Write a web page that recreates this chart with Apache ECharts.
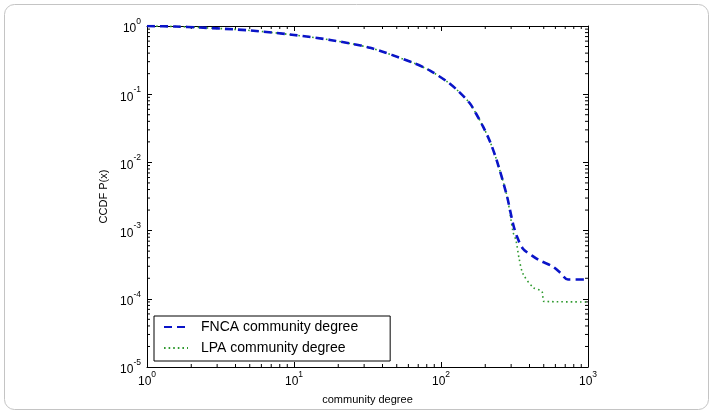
<!DOCTYPE html>
<html>
<head>
<meta charset="utf-8">
<script src="https://cdn.jsdelivr.net/npm/echarts@6/dist/echarts.min.js"></script>
<style>html,body{margin:0;padding:0;background:#fff}#c{width:709px;height:410px}</style>
</head>
<body>
<div id="c"></div>
<script>
// ---- data ----
var fncaX = [1, 1.55, 2.29, 5.02, 10, 17.6, 32.9, 64.5, 84.2, 110, 130.5, 157.5, 173, 193, 215, 240, 281, 309, 329, 361, 416, 471, 569, 645, 731, 1000];
var fncaY = [1.0, 0.983, 0.951, 0.86, 0.739, 0.625, 0.478, 0.289, 0.221, 0.153, 0.112, 0.0729, 0.0521, 0.0337, 0.0204, 0.0105, 0.00321, 0.00126, 0.000813, 0.000543, 0.00043, 0.000363, 0.000302, 0.000243, 0.000192, 0.000192];
var lpaX = [1, 1.55, 2.29, 5.02, 10, 17.6, 32.9, 64.5, 84.2, 110, 130.5, 157.5, 173, 193, 215, 240, 281, 309, 324, 340, 361, 423, 486, 502, 1000];
var lpaY = [1.0, 0.983, 0.951, 0.86, 0.739, 0.625, 0.478, 0.289, 0.221, 0.153, 0.112, 0.0729, 0.0521, 0.0337, 0.0204, 0.0105, 0.00321, 0.00096, 0.00071, 0.000388, 0.000234, 0.000147, 0.000128, 0.0000917, 0.0000899];
var seriesNames = ['FNCA community degree', 'LPA community degree'];
var xMin = 1, xMax = 1000, yMin = 1e-5, yMax = 1;
var xTitle = 'community degree', yTitle = 'CCDF P(x)';

function zip(a, b) { return a.map(function (v, i) { return [v, b[i]]; }); }
function minorVals(lo, hi) {
  var out = [];
  for (var e = Math.round(Math.log10(lo)); e < Math.round(Math.log10(hi)); e++) {
    for (var m = 2; m <= 9; m++) out.push(m * Math.pow(10, e));
  }
  return out;
}
var xMinor = minorVals(xMin, xMax), yMinor = minorVals(yMin, yMax);

var FONT = 'Liberation Sans, Arial, sans-serif';
function powLabel(v) {
  var e = Math.round(Math.log10(v));
  return '{b|10}{s|' + e + '}';
}
var richLab = {
  b: { fontSize: 12, fontFamily: FONT, color: '#000', lineHeight: 18, verticalAlign: 'bottom', padding: [6, 0, 0, 0] },
  s: { fontSize: 8.5, fontFamily: FONT, color: '#000', lineHeight: 18, verticalAlign: 'top', padding: [0, 0, 6, 0] }
};
var axisLineStyle = { show: true, lineStyle: { color: '#000', width: 1 } };

var chart = echarts.init(document.getElementById('c'), null, { renderer: 'canvas' });
var grid = { left: 147, right: 121, top: 26, bottom: 41, containLabel: false };

function minorTickSeries(vals, isX) {
  return {
    type: 'custom', coordinateSystem: 'cartesian2d', xAxisIndex: 0, yAxisIndex: 0,
    silent: true, clip: false, z: 1, legendHoverLink: false,
    data: vals.map(function (v) { return [v]; }),
    renderItem: function (params, api) {
      var v = api.value(0), L = 3, a, b;
      if (isX) { a = api.coord([v, yMin]); b = api.coord([v, yMax]); }
      else { a = api.coord([xMin, v]); b = api.coord([xMax, v]); }
      var st = { stroke: '#000', lineWidth: 1 };
      if (isX) {
        return { type: 'group', children: [
          { type: 'line', shape: { x1: a[0], y1: a[1], x2: a[0], y2: a[1] - L }, style: st },
          { type: 'line', shape: { x1: b[0], y1: b[1], x2: b[0], y2: b[1] + L }, style: st }
        ]};
      }
      return { type: 'group', children: [
        { type: 'line', shape: { x1: a[0], y1: a[1], x2: a[0] + L, y2: a[1] }, style: st },
        { type: 'line', shape: { x1: b[0], y1: b[1], x2: b[0] - L, y2: b[1] }, style: st }
      ]};
    }
  };
}

var option = {
  backgroundColor: '#fff',
  animation: false,
  graphic: [{
    type: 'rect', left: 2, top: 2, z: -10, silent: true,
    shape: { width: 704, height: 405, r: 10 },
    style: { fill: 'none', stroke: '#c4c4c4', lineWidth: 1 }
  }],
  grid: grid,
  legend: {
    data: seriesNames,
    orient: 'vertical', left: 154, top: 316,
    backgroundColor: '#fff', borderColor: '#000', borderWidth: 1, borderRadius: 0,
    padding: [4, 32, 6, 9],
    itemWidth: 24, itemHeight: 14, itemGap: 7,
    itemStyle: { opacity: 0 },
    textStyle: { fontFamily: FONT, fontSize: 14, color: '#000', padding: [0, 0, 0, 8] },
    selectedMode: false
  },
  xAxis: [{
    type: 'log', logBase: 10, min: xMin, max: xMax, interval: 1,
    name: xTitle, nameLocation: 'middle', nameGap: 27,
    nameTextStyle: { fontFamily: FONT, fontSize: 11, color: '#000' },
    axisLine: axisLineStyle, splitLine: { show: false },
    axisTick: { show: true, inside: true, length: 5, lineStyle: { color: '#000' } },
    axisLabel: { formatter: powLabel, rich: richLab, margin: 3 }
  }, {
    type: 'log', logBase: 10, min: xMin, max: xMax, interval: 1, position: 'top',
    axisLine: axisLineStyle, splitLine: { show: false },
    axisTick: { show: true, inside: true, length: 5, lineStyle: { color: '#000' } },
    axisLabel: { show: false }
  }],
  yAxis: [{
    type: 'log', logBase: 10, min: yMin, max: yMax, interval: 1,
    name: yTitle, nameLocation: 'middle', nameGap: 34,
    nameTextStyle: { fontFamily: FONT, fontSize: 11, color: '#000' },
    axisLine: axisLineStyle, splitLine: { show: false },
    axisTick: { show: true, inside: true, length: 5, lineStyle: { color: '#000' } },
    axisLabel: { formatter: powLabel, rich: richLab, margin: 6 }
  }, {
    type: 'log', logBase: 10, min: yMin, max: yMax, interval: 1, position: 'right',
    axisLine: axisLineStyle, splitLine: { show: false },
    axisTick: { show: true, inside: true, length: 5, lineStyle: { color: '#000' } },
    axisLabel: { show: false }
  }],
  series: [
    {
      name: seriesNames[0], type: 'line', data: zip(fncaX, fncaY),
      showSymbol: false, symbol: 'none', smooth: 0.3, z: 4,
      lineStyle: { color: '#0a14c8', width: 2.6, type: [8, 5] },
      itemStyle: { color: '#0a14c8' }
    },
    {
      name: seriesNames[1], type: 'line', data: zip(lpaX, lpaY),
      showSymbol: false, symbol: 'none', smooth: 0.3, z: 3,
      lineStyle: { color: '#2f9a2f', width: 1.6, type: [1.6, 3] },
      itemStyle: { color: '#2f9a2f' }
    },
    minorTickSeries(xMinor, true),
    minorTickSeries(yMinor, false)
  ]
};
chart.setOption(option);
</script>
</body>
</html>
